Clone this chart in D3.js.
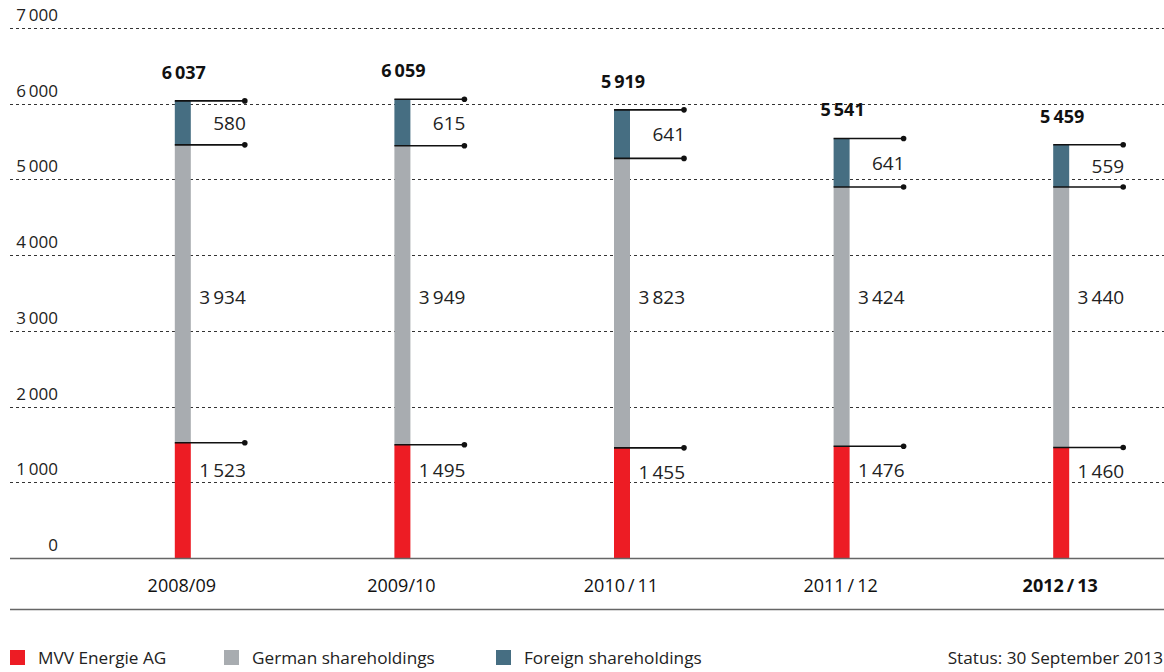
<!DOCTYPE html>
<html>
<head>
<meta charset="utf-8">
<script src="https://cdn.jsdelivr.net/npm/d3@7/dist/d3.min.js"></script>
<style>
  html, body { margin: 0; padding: 0; background: #fff; }
  svg { display: block; font-family: "Open Sans", "Noto Sans", sans-serif; }
</style>
</head>
<body>
<svg id="chart" width="1164" height="672"></svg>
<script>
// Shareholder structure by fiscal year
const years = ["2008/09", "2009/10", "2010/11", "2011/12", "2012/13"];
const mvv = [1523, 1495, 1455, 1476, 1460];
const german = [3934, 3949, 3823, 3424, 3440];
const foreign = [580, 615, 641, 641, 559];
const yTicks = [0, 1000, 2000, 3000, 4000, 5000, 6000, 7000];
const seriesNames = ["MVV Energie AG", "German shareholdings", "Foreign shareholdings"];
const seriesColors = ["#ED1C24", "#A8ACB0", "#466E82"];
const statusText = "Status: 30 September 2013";

const fmt = v => d3.format(",")(v).replace(/,/g, "\u2009");

const svg = d3.select("#chart");
const left = 10, right = 1164;

const y = d3.scaleLinear().domain([0, 7000]).range([558, 28]);
const x = d3.scaleBand().domain(years).range([73, 1171]).paddingInner(0).paddingOuter(0);
const barW = 16;
const leaderLen = 70;

// Gridlines and tick labels
const grid = svg.append("g");
yTicks.filter(t => t > 0).forEach(t => {
  grid.append("line")
    .attr("x1", left).attr("x2", right)
    .attr("y1", Math.round(y(t)) + 0.5).attr("y2", Math.round(y(t)) + 0.5)
    .attr("stroke", "#333").attr("stroke-width", 1)
    .attr("stroke-dasharray", "3,3");
});
yTicks.forEach(t => {
  grid.append("text")
    .attr("x", 58).attr("y", y(t) - 7)
    .attr("text-anchor", "end")
    .attr("font-size", 17).attr("fill", "#222")
    .text(fmt(t));
});

// Stacked data
const rows = years.map((yr, i) => ({ year: yr, mvv: mvv[i], german: german[i], foreign: foreign[i] }));
const stack = d3.stack().keys(["mvv", "german", "foreign"])(rows);

const bars = svg.append("g");
stack.forEach((layer, li) => {
  bars.selectAll(null).data(layer).enter().append("rect")
    .attr("x", d => x(d.data.year) + x.bandwidth() / 2 - barW / 2)
    .attr("width", barW)
    .attr("y", d => y(d[1]))
    .attr("height", d => y(d[0]) - y(d[1]))
    .attr("fill", seriesColors[li]);
});

// Leader lines with end dots at each segment top, plus segment values
const ann = svg.append("g");
stack.forEach((layer, li) => {
  layer.forEach(d => {
    const x0 = x(d.data.year) + x.bandwidth() / 2 - barW / 2;
    const yy = y(d[1]);
    ann.append("line")
      .attr("x1", x0).attr("x2", x0 + leaderLen)
      .attr("y1", yy).attr("y2", yy)
      .attr("stroke", "#111").attr("stroke-width", 1.6);
    ann.append("circle")
      .attr("cx", x0 + leaderLen).attr("cy", yy).attr("r", 2.8)
      .attr("fill", "#111");
    const v = d[1] - d[0];
    // MVV values hang just under their leader, German values share one row,
    // foreign values centre in their segment
    let ly;
    if (li === 0) ly = d[1] < 1470 ? yy + 31 : 477;
    else if (li === 1) ly = y(3500) + 11;
    else ly = (y(d[0]) + y(d[1])) / 2 + 7;
    ann.append("text")
      .attr("x", x0 + leaderLen + 1).attr("y", ly)
      .attr("text-anchor", "end")
      .attr("font-size", 19).attr("fill", "#222")
      .text(fmt(v));
  });
});

// Totals above bars
rows.forEach(r => {
  const total = r.mvv + r.german + r.foreign;
  ann.append("text")
    .attr("x", x(r.year) + x.bandwidth() / 2 + 1)
    .attr("y", y(total) - 22)
    .attr("text-anchor", "middle")
    .attr("font-size", 18).attr("font-weight", "bold").attr("fill", "#111")
    .text(fmt(total));
});

// Baseline and category labels
svg.append("line")
  .attr("x1", left).attr("x2", right).attr("y1", 558.5).attr("y2", 558.5)
  .attr("stroke", "#666").attr("stroke-width", 1.3);
years.forEach((yr, i) => {
  const last = i === years.length - 1;
  svg.append("text")
    .attr("x", x(yr) + x.bandwidth() / 2 - 1)
    .attr("y", 592)
    .attr("text-anchor", "middle")
    .attr("font-size", 18)
    .attr("font-weight", last ? "bold" : "normal")
    .attr("fill", "#111")
    .text(i >= 2 ? yr.replace("/", "\u2009/\u2009") : yr);
});
svg.append("line")
  .attr("x1", left).attr("x2", right).attr("y1", 609.5).attr("y2", 609.5)
  .attr("stroke", "#666").attr("stroke-width", 1.3);

// Legend
const legendX = [10, 224, 496];
seriesNames.forEach((n, i) => {
  svg.append("rect")
    .attr("x", legendX[i]).attr("y", 650).attr("width", 15).attr("height", 15)
    .attr("fill", seriesColors[i]);
  svg.append("text")
    .attr("x", legendX[i] + 28).attr("y", 664)
    .attr("font-size", 17.2).attr("fill", "#222")
    .text(n);
});
svg.append("text")
  .attr("x", 1163).attr("y", 664)
  .attr("text-anchor", "end")
  .attr("font-size", 17.2).attr("fill", "#222")
  .text(statusText);
</script>
</body>
</html>
